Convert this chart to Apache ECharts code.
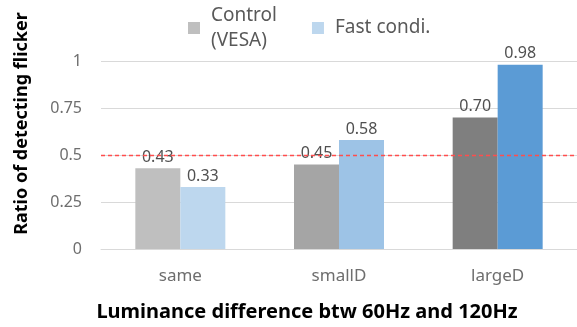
<!DOCTYPE html>
<html><head><meta charset="utf-8">
<script src="https://cdn.jsdelivr.net/npm/echarts@6/dist/echarts.min.js"></script>
<style>html,body{margin:0;padding:0;background:#fff}#c{width:577px;height:327px}</style>
</head><body><div id="c"></div>
<script>
const categories = ['same', 'smallD', 'largeD'];
const controlValues = [0.43, 0.45, 0.70];
const fastValues = [0.33, 0.58, 0.98];
const controlColors = ['#bfbfbf', '#a5a5a5', '#7f7f7f'];
const fastColors = ['#bdd7ee', '#9dc3e6', '#5b9bd5'];
const yTicks = [0, 0.25, 0.5, 0.75, 1];
const thresholdValue = 0.5;
const seriesNames = ['Control\n(VESA)', 'Fast condi.'];
const xTitle = 'Luminance difference btw 60Hz and 120Hz';
const yTitle = 'Ratio of detecting flicker';

const FONT = '"Noto Sans", "Open Sans", sans-serif';
const chart = echarts.init(document.getElementById('c'), null, {renderer: 'canvas'});
const tickLabel = v => { const i = yTicks.indexOf(+v.toFixed(2)); return i >= 0 ? String(yTicks[i]) : ''; };
const labelCfg = {show: true, position: 'top', distance: 3, color: '#505050', fontSize: 16, fontFamily: FONT,
  formatter: p => p.value.toFixed(2)};
chart.setOption({
  animation: false,
  textStyle: {fontFamily: FONT},
  legend: {
    top: 3, left: 188, padding: 0, itemWidth: 12, itemHeight: 12, itemGap: 35, icon: 'rect',
    textStyle: {color: '#595959', fontSize: 19, fontFamily: FONT, lineHeight: 25, padding: [0, 0, 0, 6]},
    data: seriesNames
  },
  grid: {left: 101, right: 0, top: 61, bottom: 78},
  xAxis: {type: 'category', data: categories,
     axisLine: {show: true, lineStyle: {color: '#d9d9d9', width: 1}}, axisTick: {show: false},
     axisLabel: {color: '#6e6e6e', fontSize: 17, fontFamily: FONT, margin: 19}},
  yAxis: {type: 'value', min: 0, max: 1, interval: 0.25,
     axisLine: {show: false}, axisTick: {show: false},
     splitLine: {show: true, lineStyle: {color: '#d9d9d9', width: 1}},
     axisLabel: {color: '#6e6e6e', fontSize: 16, fontFamily: FONT, margin: 19, formatter: tickLabel}},
  graphic: [
    {type: 'text', x: 307, y: 312, style: {text: xTitle, fill: '#000', font: 'bold 20px ' + FONT,
      textAlign: 'center', textVerticalAlign: 'middle'}},
    {type: 'text', rotation: Math.PI / 2, x: 21.5, y: 123.5,
      style: {text: yTitle, fill: '#000', font: 'bold 18px ' + FONT, textAlign: 'center', textVerticalAlign: 'middle'}}
  ],
  series: [
    {name: seriesNames[0], type: 'bar', z: 3,
     barWidth: 45, barGap: '0%',
     itemStyle: {color: controlColors[0]},
     data: controlValues.map((v, i) => ({value: v, itemStyle: {color: controlColors[i]}})),
     label: labelCfg},
    {name: seriesNames[1], type: 'bar', z: 3,
     barWidth: 45, barGap: '0%',
     itemStyle: {color: fastColors[0]},
     data: fastValues.map((v, i) => ({value: v, itemStyle: {color: fastColors[i]}})),
     label: labelCfg,
     markLine: {silent: true, symbol: 'none', z: 10, label: {show: false},
       lineStyle: {color: '#ff4d4d', type: [4, 3], width: 1.3},
       data: [{yAxis: thresholdValue}]}}
  ]
});
</script></body></html>
